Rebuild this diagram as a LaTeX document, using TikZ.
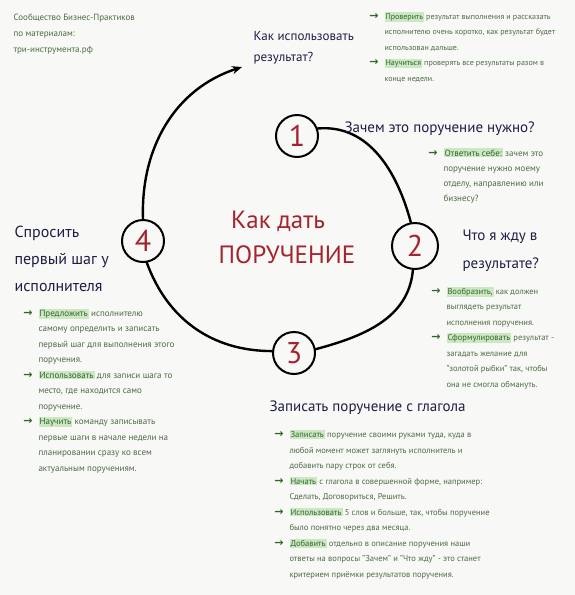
\documentclass[tikz,border=0pt]{standalone}
\usepackage{fontspec}
\setmainfont{PT Sans}
\newfontfamily\arrfont{DejaVu Sans}
\usetikzlibrary{arrows.meta}
\definecolor{navy}{HTML}{1E1E46}
\definecolor{darkred}{HTML}{A3232E}
\definecolor{bodygreen}{HTML}{4D6B45}
\definecolor{wordgreen}{HTML}{2E6A28}
\definecolor{hlback}{HTML}{CDE6C4}
\definecolor{paper}{HTML}{F8F8F6}
\newcommand{\hl}[1]{{\setlength{\fboxsep}{1pt}\colorbox{hlback}{\color{wordgreen}#1}}}
\newcommand{\bul}{\llap{{\arrfont\bfseries\fontsize{11}{11}\selectfont\color{wordgreen}→}\hspace{6pt}}}

\begin{document}
\begin{tikzpicture}[x=1pt,y=1pt,
  num/.style={circle,draw=black,line width=2pt,minimum size=42pt,inner sep=0pt,
    text=darkred,font=\fontsize{30}{30}\selectfont},
  head/.style={anchor=base west,align=left,text=navy,font=\fontsize{15}{27}\selectfont},
  note/.style={anchor=base west,align=left,text=bodygreen,font=\fontsize{8.5}{15.5}\selectfont},
  ring/.style={line width=2.4pt,line cap=round}]
  \fill[paper] (0,0) rectangle (575,-595);
  \useasboundingbox (0,0) rectangle (575,-595);

  \node[note,font=\fontsize{9}{16}\selectfont] (credit) at (10,-52)
    {Сообщество Бизнес-Практиков\\по материалам:\\три-инструмента.рф};

  \node[num] (c1) at (297,-136) {1};
  \node[num,minimum size=46pt] (c2) at (415,-246) {2};
  \node[num] (c3) at (294,-353) {3};
  \node[num] (c4) at (143,-241) {4};
  \coordinate (tip) at (242,-67);

  \node[text=darkred,font=\fontsize{25}{25}\selectfont] (title1) at (278,-221) {Как дать};
  \node[text=darkred,font=\fontsize{25}{25}\selectfont] (title2) at (287,-255) {ПОРУЧЕНИЕ};

  \draw[ring] (c1.20) to[out=5,in=105] (c2.100);
  \draw[ring] (c2.-95) to[out=-95,in=15] (c3.10);
  \draw[ring] (c3.175) to[out=180,in=-70] (c4.-80);
  \draw[ring,-{Stealth[length=10pt,width=8pt]}] (c4.90) to[out=92,in=198] (tip);

  \node[head,font=\fontsize{13}{21}\selectfont] (use) at (250,-61) {Как использовать\\результат?};
  \node[head] (why) at (341,-132) {Зачем это поручение нужно?};
  \node[head,font=\fontsize{15}{28}\selectfont] (expect) at (459,-268) {Что я жду в\\результате?};
  \node[head,font=\fontsize{16}{27}\selectfont] (ask) at (11,-291) {Спросить\\первый шаг у\\исполнителя};
  \node[head] (write) at (266,-411) {Записать поручение с глагола};

  \node[note,font=\fontsize{8}{15.5}\selectfont] (usenote) at (381,-81)
    {\bul\hl{Проверить} результат выполнения и рассказать\\исполнителю очень коротко, как результат будет\\использован дальше.\\\bul\hl{Научиться} проверять все результаты разом в\\конце недели.};
  \node[note,font=\fontsize{9}{15}\selectfont] (whynote) at (440,-201)
    {\bul\hl{Ответить себе:} зачем это\\поручение нужно моему\\отделу, направлению или\\бизнесу?};
  \node[note] (expectnote) at (443,-387)
    {\bul\hl{Вообразить,} как должен\\выглядеть результат\\исполнения поручения.\\\bul\hl{Сформулировать} результат -\\загадать желание для\\"золотой рыбки" так, чтобы\\она не смогла обмануть.};
  \node[note,font=\fontsize{9}{15.5}\selectfont] (asknote) at (35,-471)
    {\bul\hl{Предложить} исполнителю\\самому определить и записать\\первый шаг для выполнения этого\\поручения.\\\bul\hl{Использовать} для записи шага то\\место, где находится само\\поручение.\\\bul\hl{Научить} команду записывать\\первые шаги в начале недели на\\планировании сразу ко всем\\актуальным поручениям.};
  \node[note] (writenote) at (286,-577)
    {\bul\hl{Записать} поручение своими руками туда, куда в\\любой момент может заглянуть исполнитель и\\добавить пару строк от себя.\\\bul\hl{Начать} с глагола в совершенной форме, например:\\Сделать, Договориться, Решить.\\\bul\hl{Использовать} 5 слов и больше, так, чтобы поручение\\было понятно через два месяца.\\\bul\hl{Добавить} отдельно в описание поручения наши\\ответы на вопросы "Зачем" и "Что жду" - это станет\\критерием приёмки результатов поручения.};
\end{tikzpicture}
\end{document}
